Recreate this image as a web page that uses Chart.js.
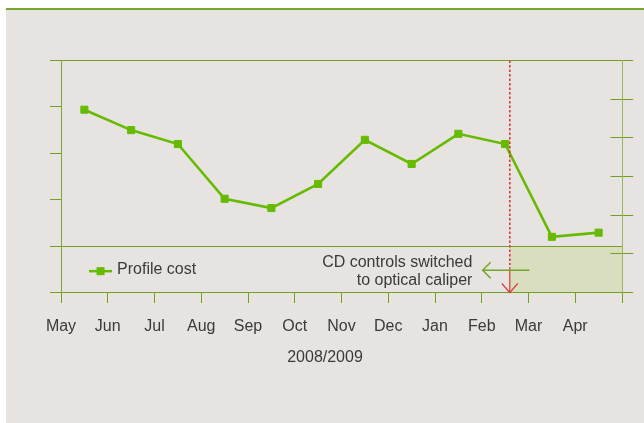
<!DOCTYPE html>
<html><head><meta charset="utf-8">
<script src="https://cdn.jsdelivr.net/npm/chart.js@4.4.1/dist/chart.umd.min.js"></script>
<style>
html,body{margin:0;padding:0;background:#fff;width:644px;height:423px;overflow:hidden}
#panel{position:absolute;left:6px;top:8px;width:638px;height:415px;background:#e6e3e0;border-top:2px solid #74a82a;box-sizing:border-box}
#wrap{position:absolute;left:6px;top:10px;width:638px;height:413px}
</style></head><body>
<div id="panel"></div>
<div id="wrap"><canvas id="c" width="638" height="413"></canvas></div>
<script>
// ---- data ----
const months = ['May','Jun','Jul','Aug','Sep','Oct','Nov','Dec','Jan','Feb','Mar','Apr'];
const profileCost = [3.94,3.50,3.20,2.02,1.82,2.34,3.29,2.77,3.42,3.20,1.20,1.29];
const seriesName = 'Profile cost';
const xAxisTitle = '2008/2009';
const noteLines = ['CD controls switched','to optical caliper'];
const switchAt = 9.6;          // position on the month axis where the switch happened
const shadedTop = 1;           // shaded zone upper value (left axis)

// ---- style ----
const textColor = '#3a3a3a';
const gridColor = '#71a023';
const leftAxisColor = '#7ea634';
const rightAxisColor = '#97b562';
const lineColor = '#66bb00';
const shadeColor = '#d9dec0';
const redColor = '#dc3a3a';
const fontFamily = '"Liberation Sans", Arial, Helvetica, sans-serif';

Chart.defaults.font.family = fontFamily;
Chart.defaults.font.size = 16;
Chart.defaults.color = textColor;

const deco = {
  id: 'deco',
  beforeDraw(chart) {
    const {ctx, scales: {x, y}} = chart;
    ctx.save();
    ctx.fillStyle = shadeColor;
    const l = x.getPixelForValue(switchAt), r = x.getPixelForValue(x.max);
    const t = y.getPixelForValue(shadedTop), b = y.getPixelForValue(0);
    ctx.fillRect(l, t, r - l, b - t);
    ctx.restore();
  },
  afterDatasetsDraw(chart) {
    const {ctx, chartArea, scales: {x, y, y2}} = chart;
    ctx.save();
    // inner parts of right-axis ticks
    ctx.strokeStyle = gridColor; ctx.lineWidth = 1;
    y2.ticks.forEach(t => {
      const py = Math.round(y2.getPixelForValue(t.value) - 0.5) + 0.5;
      ctx.beginPath(); ctx.moveTo(chartArea.right - 11.5, py); ctx.lineTo(chartArea.right, py); ctx.stroke();
    });
    // red switch marker: dotted line + solid arrow
    const rx = x.getPixelForValue(switchAt);
    const arrowTop = y.getPixelForValue(0.55);
    const bottom = y.getPixelForValue(0);
    ctx.strokeStyle = redColor; ctx.lineWidth = 1.6;
    ctx.setLineDash([2.5, 2]);
    ctx.beginPath(); ctx.moveTo(rx, chartArea.top); ctx.lineTo(rx, arrowTop - 2); ctx.stroke();
    ctx.setLineDash([]);
    ctx.lineWidth = 1.2;
    ctx.beginPath(); ctx.moveTo(rx, arrowTop); ctx.lineTo(rx, bottom); ctx.stroke();
    ctx.beginPath(); ctx.moveTo(rx - 8, bottom - 9); ctx.lineTo(rx, bottom); ctx.lineTo(rx + 8, bottom - 9); ctx.stroke();
    // green arrow pointing left
    const gy = y.getPixelForValue(0.48);
    const gx1 = x.getPixelForValue(switchAt - 0.58), gx2 = x.getPixelForValue(switchAt + 0.42);
    ctx.strokeStyle = '#74a626'; ctx.lineWidth = 1.5;
    ctx.beginPath(); ctx.moveTo(gx2, gy); ctx.lineTo(gx1, gy); ctx.stroke();
    ctx.beginPath(); ctx.moveTo(gx1 + 8, gy - 8); ctx.lineTo(gx1, gy); ctx.lineTo(gx1 + 8, gy + 8); ctx.stroke();
    // note text
    ctx.fillStyle = textColor;
    ctx.font = '16px ' + fontFamily;
    ctx.textAlign = 'right'; ctx.textBaseline = 'alphabetic';
    const nx = x.getPixelForValue(8.8), ny = y.getPixelForValue(0.556);
    noteLines.forEach((s, i) => ctx.fillText(s, nx, ny + i * 18.3));
    // legend
    const lx = x.getPixelForValue(0.6), ly = y.getPixelForValue(0.46);
    ctx.strokeStyle = lineColor; ctx.lineWidth = 2.5;
    ctx.beginPath(); ctx.moveTo(lx, ly); ctx.lineTo(lx + 23, ly); ctx.stroke();
    ctx.fillStyle = lineColor; ctx.fillRect(lx + 7.5, ly - 4, 8, 8);
    ctx.fillStyle = textColor; ctx.textAlign = 'left';
    ctx.fillText(seriesName, lx + 28, ly + 3);
    ctx.restore();
  }
};

new Chart(document.getElementById('c'), {
  type: 'line',
  data: {
    datasets: [{
      label: seriesName,
      data: profileCost.map((v, i) => ({x: i + 0.5, y: v})),
      borderColor: lineColor,
      backgroundColor: lineColor,
      borderWidth: 2.6,
      pointStyle: 'rect',
      pointRadius: 5,
      pointBorderWidth: 1,
      pointBackgroundColor: lineColor,
      pointBorderColor: lineColor,
      tension: 0,
      clip: false,
      yAxisID: 'y'
    }]
  },
  options: {
    responsive: false,
    devicePixelRatio: 1,
    animation: false,
    events: [],
    layout: {padding: {left: 5, right: 5, top: 50.5, bottom: 56.3}},
    plugins: {
      legend: {display: false},
      tooltip: {enabled: false},
      title: {display: true, position: 'bottom', text: xAxisTitle, color: textColor,
              font: {size: 16, weight: 'normal'}, padding: {top: 10, bottom: 0}}
    },
    scales: {
      x: {
        type: 'linear', min: 0, max: months.length,
        ticks: {stepSize: 1, autoSkip: false, maxRotation: 0, padding: 14, color: textColor,
                callback: v => months[v] ?? ''},
        grid: {drawOnChartArea: false, drawTicks: true, tickLength: 10.5, tickColor: gridColor, color: gridColor},
        border: {display: true, color: gridColor, width: 1},
        afterFit: s => { s.height = 45; }
      },
      y: {
        position: 'left', min: 0, max: 5,
        ticks: {display: false, stepSize: 1},
        grid: {drawOnChartArea: true, tickLength: 11, tickColor: gridColor,
               color: c => (c.tick && [0, 1, 5].includes(c.tick.value)) ? gridColor : 'rgba(0,0,0,0)'},
        border: {display: true, color: leftAxisColor, width: 1},
        afterFit: s => { s.width = 50; }
      },
      y2: {
        position: 'right', min: 0, max: 6,
        ticks: {display: false, stepSize: 1},
        grid: {drawOnChartArea: false, tickLength: 11.3, tickColor: gridColor},
        border: {display: true, color: rightAxisColor, width: 1},
        afterFit: s => { s.width = 17; }
      }
    }
  },
  plugins: [deco]
});
</script>
</body></html>
